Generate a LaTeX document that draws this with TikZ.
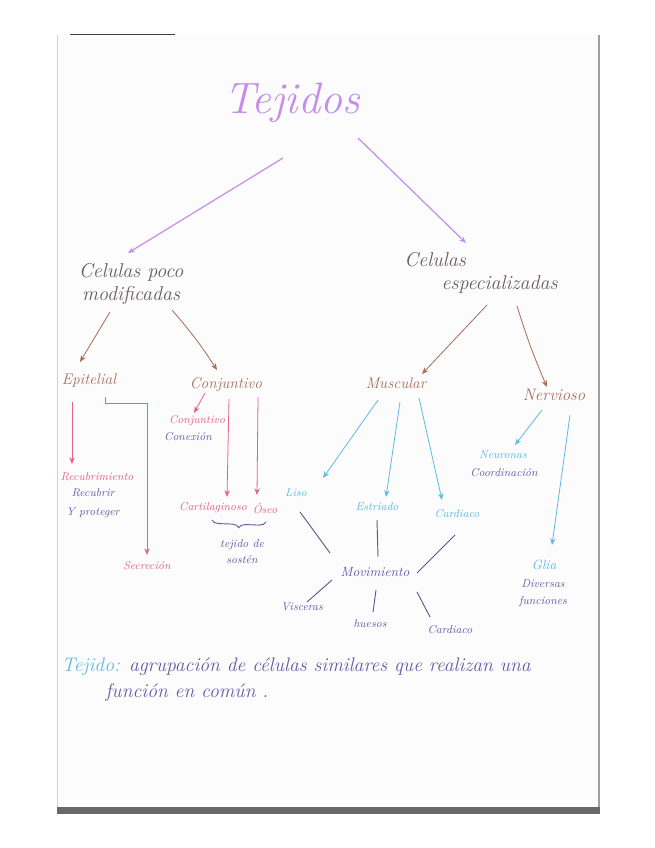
\documentclass[tikz,border=0pt]{standalone}
\usepackage{fontspec}
\usetikzlibrary{arrows.meta,calc,decorations.pathreplacing}
\definecolor{paper}{RGB}{252,252,253}
\definecolor{ttl}{RGB}{198,140,234}
\definecolor{pencil}{RGB}{105,92,92}
\definecolor{brn}{RGB}{165,108,88}
\definecolor{pnk}{RGB}{228,100,132}
\definecolor{ind}{RGB}{100,92,165}
\definecolor{blu}{RGB}{95,185,225}
\definecolor{lnk}{RGB}{98,88,145}
\definecolor{shad}{RGB}{105,105,105}
\tikzset{
  lbl/.style={inner sep=1pt, align=center, font=\itshape},
  arr/.style={-{Stealth[length=5pt,width=4pt]}, line width=0.6pt},
  lnkline/.style={lnk, line width=0.7pt},
  big/.style={font=\itshape\fontsize{15}{17}\selectfont},
  mid/.style={font=\itshape\fontsize{11.5}{13}\selectfont},
  sml/.style={font=\itshape\fontsize{8.5}{10}\selectfont},
  defn/.style={font=\itshape\fontsize{14.7}{17}\selectfont}
}
\begin{document}
\begin{tikzpicture}[x=0.75pt,y=-0.75pt]
\useasboundingbox (0,0) rectangle (655,848);
\fill[white] (0,0) rectangle (655,848);
% sheet of paper
\fill[paper] (57,35) rectangle (599,808);
\draw[gray!35, line width=0.4pt] (57,35) -- (57,808);
\draw[gray!75, line width=0.8pt] (599,35) -- (599,808);
\fill[shad] (57,807) rectangle (600,814);
\draw[black!75, line width=1pt] (70,34.5) -- (175,34.5);

% title
\node[lbl, text=ttl, font=\itshape\fontsize{33}{38}\selectfont] (tej) at (292,103) {Tejidos};

% level 1
\node[lbl, big, text=pencil] (cpm) at (131,284) {Celulas poco\\modificadas};
\node[lbl, big, text=pencil, align=left] (ces) at (481,273) {Celulas\\\hspace*{28pt}especializadas};

% level 2
\node[lbl, mid, text=brn] (epi) at (89,381) {Epitelial};
\node[lbl, mid, text=brn] (con) at (226,385) {Conjuntivo};
\node[lbl, mid, text=brn] (mus) at (396,383) {Muscular};
\node[lbl, text=brn, font=\itshape\fontsize{12.5}{14}\selectfont] (ner) at (554,395) {Nervioso};

% level 3 (left)
\node[lbl, sml, text=pnk] (rec) at (97,477) {Recubrimiento};
\node[lbl, text=ind, font=\itshape\fontsize{8.5}{14}\selectfont] (recd) at (93,503) {Recubrir\\Y proteger};
\node[lbl, sml, text=pnk] (sec) at (147,566) {Secreción};
\node[lbl, sml, text=pnk] (conj) at (197,421) {Conjuntivo};
\node[lbl, sml, text=ind] (conx) at (188,437) {Conexión};
\node[lbl, sml, text=pnk] (car) at (213,508) {Cartilaginoso};
\node[lbl, sml, text=pnk] (ose) at (265,508) {Óseo};
\node[lbl, text=ind, font=\itshape\fontsize{8.5}{12}\selectfont] (sos) at (242,552) {tejido de\\sostén};

% level 3 (right)
\node[lbl, sml, text=blu] (liso) at (296,493) {Liso};
\node[lbl, sml, text=blu] (est) at (377,507) {Estriado};
\node[lbl, sml, text=blu] (card) at (457,514) {Cardiaco};
\node[lbl, sml, text=blu] (neu) at (503,455) {Neuronas};
\node[lbl, sml, text=ind] (coo) at (504,473) {Coordinación};
\node[lbl, text=blu, font=\itshape\fontsize{10}{12}\selectfont] (glia) at (544,565) {Glia};
\node[lbl, text=ind, font=\itshape\fontsize{8.5}{13}\selectfont] (div) at (543,593) {Diversas\\funciones};
\node[lbl, text=ind, font=\itshape\fontsize{10}{12}\selectfont] (mov) at (375,572) {Movimiento};
\node[lbl, sml, text=ind] (vis) at (302,607) {Visceras};
\node[lbl, sml, text=ind] (hue) at (370,624) {huesos};
\node[lbl, sml, text=ind] (card2) at (450,630) {Cardiaco};

% definition
\node[lbl, defn, anchor=west, text=ind] (def1) at (60,667) {\textcolor{blu}{Tejido:} agrupación de células similares que realizan una};
\node[lbl, defn, anchor=west, text=ind] (def2) at (104,693) {función en común .};

% title arrows
\draw[arr, ttl, line width=0.9pt] ($(tej)+(-9,55)$) -- ($(cpm)+(-3,-31)$);
\draw[arr, ttl, line width=0.9pt] ($(tej)+(66,35)$) -- ($(ces)+(-15,-30)$);

% brown arrows
\draw[arr, brn] ($(cpm)+(-21,28)$) -- ($(epi)+(-9,-19)$);
\draw[arr, brn] ($(cpm)+(41,26)$) to[bend left=4] ($(con)+(-9,-15)$);
\draw[arr, brn] ($(ces)+(6,32)$) -- ($(mus)+(26,-9)$);
\draw[arr, brn] ($(ces)+(36,33)$) to[bend right=3] ($(ner)+(-7,-8)$);

% pink arrows
\draw[arr, pnk] ($(epi)+(-17,21)$) -- ($(rec)+(-25,-13)$);
\draw[arr, pnk] ($(epi)+(16,16)$) -- ++(0,6) -| ($(sec)+(0,-11)$);
\draw[arr, pnk] ($(con)+(-21,8)$) -- ($(conj)+(-3,-8)$);
\draw[arr, pnk] ($(con)+(3,14)$) -- ($(car)+(14,-11)$);
\draw[arr, pnk] ($(con)+(32,12)$) -- ($(ose)+(-8,-13)$);

% brace
\draw[ind, line width=0.7pt, decorate, decoration={brace, mirror, amplitude=5pt}] ($(car)+(-1,12)$) -- ($(ose)+(1,14)$);

% blue arrows
\draw[arr, blu] ($(mus)+(-18,17)$) -- ($(liso)+(27,-15)$);
\draw[arr, blu] ($(mus)+(4,19)$) -- ($(est)+(9,-10)$);
\draw[arr, blu] ($(mus)+(23,15)$) -- ($(card)+(-15,-14)$);
\draw[arr, blu] ($(ner)+(-12,15)$) -- ($(neu)+(12,-10)$);
\draw[arr, blu] ($(ner)+(16,20)$) -- ($(glia)+(8,-20)$);

% movement links
\draw[lnkline] ($(liso)+(4,19)$) -- ($(mov)+(-45,-19)$);
\draw[lnkline] ($(est)+(0,13)$) -- ($(mov)+(3,-15)$);
\draw[lnkline] ($(card)+(-2,21)$) -- ($(mov)+(42,1)$);
\draw[lnkline] ($(mov)+(-43,8)$) -- ($(vis)+(5,-5)$);
\draw[lnkline] ($(mov)+(1,18)$) -- ($(hue)+(3,-12)$);
\draw[lnkline] ($(mov)+(42,20)$) -- ($(card2)+(-20,-13)$);
\end{tikzpicture}
\end{document}
